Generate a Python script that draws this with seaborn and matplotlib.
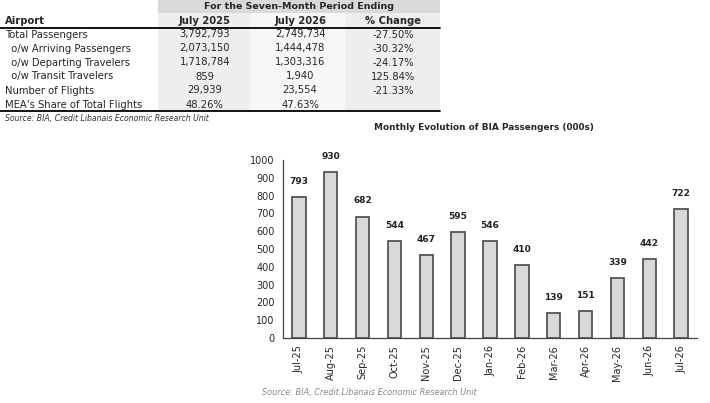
import matplotlib
matplotlib.use("Agg")
import matplotlib.pyplot as plt
import seaborn as sns
import numpy as np
import pandas as pd
from matplotlib.patches import Rectangle
from matplotlib.lines import Line2D

# --- dati tabella ---
row_labels = ["Total Passengers", "  o/w Arriving Passengers", "  o/w Departing Travelers",
              "  o/w Transit Travelers", "Number of Flights", "MEA's Share of Total Flights"]
col_headers = ["July 2025", "July 2026", "% Change"]
july_2025 = ["3,792,793", "2,073,150", "1,718,784", "859", "29,939", "48.26%"]
july_2026 = ["2,749,734", "1,444,478", "1,303,316", "1,940", "23,554", "47.63%"]
pct_change = ["-27.50%", "-30.32%", "-24.17%", "125.84%", "-21.33%", ""]

# --- dati grafico ---
months = ["Jul-25", "Aug-25", "Sep-25", "Oct-25", "Nov-25", "Dec-25", "Jan-26",
          "Feb-26", "Mar-26", "Apr-26", "May-26", "Jun-26", "Jul-26"]
passengers = [793, 930, 682, 544, 467, 595, 546, 410, 139, 151, 339, 442, 722]

sns.set_style("white")
plt.rcParams['font.family'] = ['DejaVu Sans']

W, H = 710, 403
fig = plt.figure(figsize=(W / 100, H / 100), dpi=100)


def fx(px):
    return px / W


def fy(py):
    return 1 - py / H


# --- tabella ---
fs = 7.2
fig.patches.append(Rectangle((fx(158), fy(13)), fx(282), 13 / H, transform=fig.transFigure,
                             facecolor="#d9d9d9", edgecolor="none", zorder=0))
# sfondo colonne (la colonna centrale e' piu' chiara)
for x0, x1, c in [(158, 250, "#eeeeee"), (250, 345, "#f7f7f7"), (345, 440, "#eeeeee")]:
    fig.patches.append(Rectangle((fx(x0), fy(110)), fx(x1 - x0), 97 / H,
                                 transform=fig.transFigure, facecolor=c, edgecolor="none",
                                 zorder=0))
fig.text(fx(299), fy(6.5), "For the Seven-Month Period Ending", ha="center", va="center",
         fontsize=6.8, fontweight="bold")
fig.text(fx(5), fy(21), "Airport", ha="left", va="center", fontsize=fs, fontweight="bold")
col_x = [205, 300, 393]
for cx, h in zip(col_x, col_headers):
    fig.text(fx(cx), fy(21), h, ha="center", va="center", fontsize=fs, fontweight="bold")
fig.add_artist(Line2D([0, fx(440)], [fy(27.5)] * 2, color="black", lw=1.3))
for i, lab in enumerate(row_labels):
    y = fy(34.5 + i * 14)
    fig.text(fx(5), y, lab, ha="left", va="center", fontsize=fs)
    for cx, col in zip(col_x, [july_2025, july_2026, pct_change]):
        fig.text(fx(cx), y, col[i], ha="center", va="center", fontsize=fs)
fig.add_artist(Line2D([0, fx(440)], [fy(110.5)] * 2, color="black", lw=1.3))
fig.text(fx(5), fy(118), "Source: BIA, Credit Libanais Economic Research Unit", ha="left",
         va="center", fontsize=5.6, style="italic", color="#333333")

# --- grafico a barre ---
ax = fig.add_axes([fx(283), fy(338), fx(697 - 283), (338 - 160) / H])
df = pd.DataFrame({"month": months, "passengers": passengers})
sns.barplot(data=df, x="month", y="passengers", color="#d9d9d9", edgecolor="#555555",
            linewidth=1.3, width=0.42, saturation=1, ax=ax)
ax.set_xlim(-0.5, len(months) - 0.5)
ax.set_ylim(0, 1000)
ax.set_yticks(np.arange(0, 1001, 100))
ax.set_xlabel("")
ax.set_ylabel("")
for sp in ["top", "right"]:
    ax.spines[sp].set_visible(False)
for sp in ["left", "bottom"]:
    ax.spines[sp].set_color("#444444")
    ax.spines[sp].set_linewidth(0.9)
ax.tick_params(axis="y", direction="out", length=4, width=0.8, color="#444444",
               labelsize=7, pad=2)
ax.set_xticks(np.arange(-0.5, len(months), 1), minor=True)
ax.tick_params(axis="x", which="major", length=0, labelsize=7, rotation=90, pad=5)
ax.tick_params(axis="x", which="minor", direction="out", length=4, width=0.8, color="#444444")
for i, v in enumerate(passengers):
    ax.annotate(str(v), (i, v), xytext=(0, 8), textcoords="offset points", ha="center",
                va="bottom", fontsize=6.5, fontweight="bold", color="#222222")

fig.text(fx(484), fy(127), "Monthly Evolution of BIA Passengers (000s)", ha="center",
         va="center", fontsize=6.4, fontweight="bold")
fig.text(fx(262), fy(392), "Source: BIA, Credit Libanais Economic Research Unit", ha="left",
         va="center", fontsize=5.9, style="italic", color="#888888")

fig.savefig("out.png", dpi=100)
